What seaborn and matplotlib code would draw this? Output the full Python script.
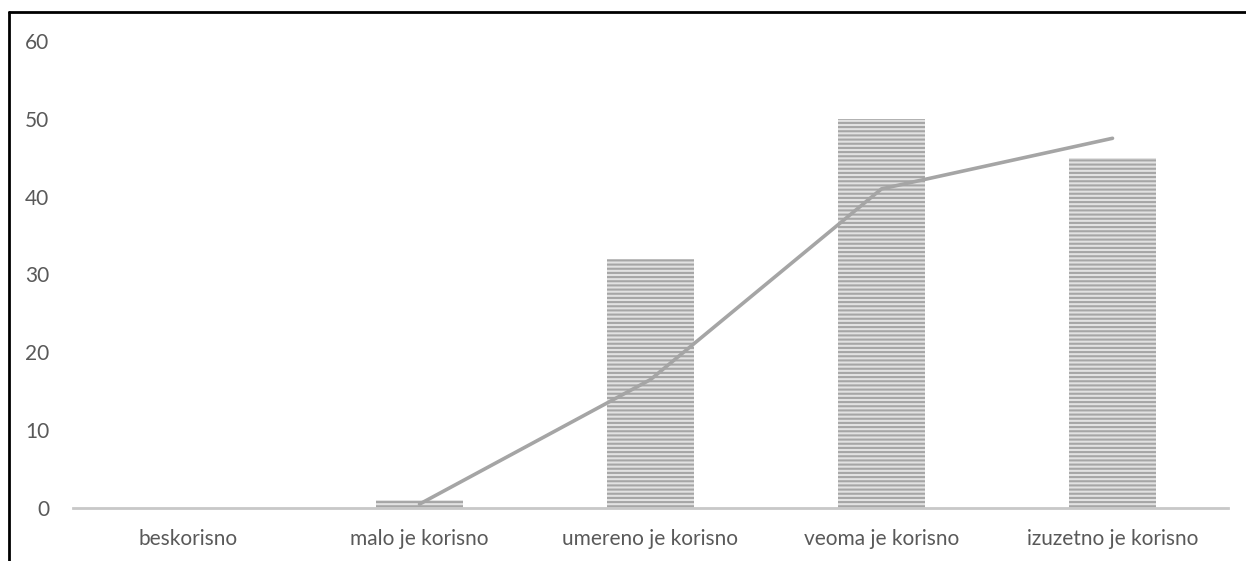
import matplotlib
matplotlib.use("Agg")
import matplotlib.pyplot as plt
import seaborn as sns
import pandas as pd
from matplotlib.lines import Line2D

categories = ["beskorisno", "malo je korisno", "umereno je korisno", "veoma je korisno", "izuzetno je korisno"]
counts = [0, 1, 32, 50, 45]
# 2-period moving average trend line
trend_y = [0.5, 16.5, 41, 47.5]
yticks = [0, 10, 20, 30, 40, 50, 60]

sns.set_style("white")
plt.rcParams['font.family'] = ['Lato', 'DejaVu Sans']
plt.rcParams['hatch.linewidth'] = 1.5

fig = plt.figure(figsize=(12.46, 5.61), dpi=100)
ax = fig.add_axes([73/1246, 53/561, (1228-73)/1246, (508-41)/561])

df = pd.DataFrame({"cat": categories, "n": counts})
sns.barplot(data=df, x="cat", y="n", ax=ax, color="#e2e2e2", width=0.38,
            saturation=1, linewidth=0, edgecolor="#a6a6a6", hatch="----")
ax.plot(range(1, 5), trend_y, color="#a5a5a5", lw=2.6, solid_capstyle="round")

ax.set_ylim(0, 60)
ax.set_xlim(-0.5, 4.5)
ax.set_yticks(yticks)
ax.set_xlabel("")
ax.set_ylabel("")
for s in ["top", "right", "left"]:
    ax.spines[s].set_visible(False)
ax.spines["bottom"].set_color("#c8c8c8")
ax.spines["bottom"].set_linewidth(2)
ax.tick_params(axis="both", length=0, labelsize=15, colors="#595959")
ax.tick_params(axis="y", pad=17)
ax.tick_params(axis="x", pad=15)

# outer border (only top and left visible in the crop)
fig.add_artist(Line2D([9/1246, 9/1246], [0, 1 - 12/561], transform=fig.transFigure, color="black", lw=2))
fig.add_artist(Line2D([9/1246, 1], [1 - 12/561, 1 - 12/561], transform=fig.transFigure, color="black", lw=2))

fig.savefig("out.png", dpi=100)
